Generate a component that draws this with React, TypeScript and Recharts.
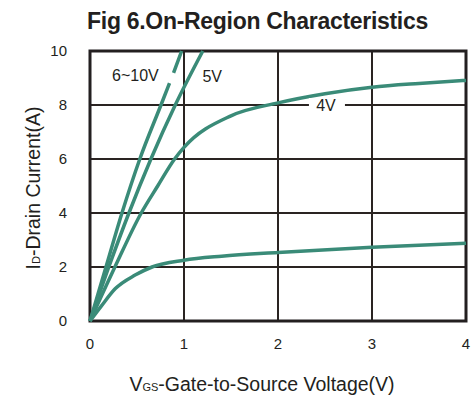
import {
  LineChart,
  Line,
  XAxis,
  YAxis,
  CartesianGrid,
  ReferenceArea,
  ReferenceDot,
} from 'recharts';

// Gate voltage (V) and drain current (A), one pair of arrays per curve
const v6to10 = [0, 0.17, 0.34, 0.53, 0.755, 0.846, 0.868, 0.889, 0.975];
const i6to10 = [0, 2, 4, 6, 8, 8.81, null, 9.19, 10];

const v5 = [0, 0.2, 0.414, 0.648, 0.907, 1.2];
const i5 = [0, 2, 4, 6, 8, 10];

const v4 = [0, 0.265, 0.545, 0.72, 0.9, 1, 1.5, 2, 2.5, 3, 3.5, 4];
const i4 = [0, 2, 4, 5, 6, 6.43, 7.6, 8.08, 8.42, 8.66, 8.8, 8.91];

const v3 = [0, 0.12, 0.27, 0.48, 0.66, 1, 1.4, 2, 3, 4];
const i3 = [0, 0.55, 1.2, 1.7, 2.0, 2.25, 2.4, 2.54, 2.73, 2.88];

const xTicks = [0, 1, 2, 3, 4];
const yTicks = [0, 2, 4, 6, 8, 10];

const curveLabels = [
  { text: '6~10V', v: 0.483, i: 9.11, boxed: false },
  { text: '5V', v: 1.3, i: 9.05, boxed: false },
  { text: '4V', v: 2.51, i: 8.0, boxed: true },
];

const toPoints = (vs: number[], is: (number | null)[]) => vs.map((v, k) => ({ v, i: is[k] }));

const series = [
  { key: 'g6to10', data: toPoints(v6to10, i6to10) },
  { key: 'g5', data: toPoints(v5, i5) },
  { key: 'g4', data: toPoints(v4, i4) },
  { key: 'g3', data: toPoints(v3, i3) },
];

const FONT = '"Liberation Sans", Arial, Helvetica, sans-serif';
const INK = '#231f20';
const CURVE = '#3a8b78';

function CurveLabel({ viewBox, text, boxed }: any) {
  const cx = viewBox.x + (viewBox.width || 0) / 2;
  const cy = viewBox.y + (viewBox.height || 0) / 2;
  return (
    <g>
      {boxed && <rect x={cx - 17} y={cy - 7} width={36} height={13} fill="#fff" />}
      <text x={cx} y={cy} dy="0.36em" textAnchor="middle" fontFamily={FONT} fontSize={16} fill={INK}>
        {text}
      </text>
    </g>
  );
}

function XLabel({ viewBox }: any) {
  return (
    <text
      x={viewBox.x + viewBox.width / 2 - 16}
      y={viewBox.y + 70}
      textAnchor="middle"
      fontFamily={FONT}
      fontSize={19.5}
      fill={INK}
    >
      V<tspan fontSize={11}>GS</tspan>-Gate-to-Source Voltage(V)
    </text>
  );
}

function YLabel({ viewBox }: any) {
  const x = viewBox.x + 9.5;
  const y = viewBox.y + viewBox.height / 2 + 2;
  return (
    <text
      x={x}
      y={y}
      transform={`rotate(-90, ${x}, ${y})`}
      textAnchor="middle"
      fontFamily={FONT}
      fontSize={19.5}
      fill={INK}
    >
      I<tspan fontSize={11}>D</tspan>-Drain Current(A)
    </text>
  );
}

export default function App() {
  return (
    <div style={{ position: 'relative', width: 474, height: 398, background: '#fff' }}>
      <style>{`body{margin:0}`}</style>
      <div
        style={{
          position: 'absolute',
          top: 10,
          left: 257.5,
          transform: 'translateX(-50%)',
          whiteSpace: 'nowrap',
          fontFamily: FONT,
          fontWeight: 'bold',
          fontSize: 23,
          lineHeight: '23px',
          letterSpacing: -0.3,
          color: INK,
        }}
      >
        Fig 6.On-Region Characteristics
      </div>
      <LineChart width={474} height={398} margin={{ top: 51, right: 8, bottom: 37, left: 30 }}>
        <CartesianGrid stroke="#2a2422" strokeWidth={2} />
        <XAxis
          type="number"
          dataKey="v"
          domain={[0, 4]}
          ticks={xTicks}
          height={40}
          axisLine={false}
          tickLine={false}
          tickSize={0}
          tickMargin={17}
          tick={{ fontSize: 15, fill: INK, fontFamily: FONT }}
          label={{ content: <XLabel /> } as any}
        />
        <YAxis
          type="number"
          dataKey="i"
          domain={[0, 10]}
          ticks={yTicks}
          width={60}
          axisLine={false}
          tickLine={false}
          tickSize={0}
          tickMargin={23}
          tick={{ fontSize: 15, fill: INK, fontFamily: FONT }}
          label={{ content: <YLabel /> } as any}
        />
        <ReferenceArea x1={0} x2={4} y1={0} y2={10} fill="none" stroke={INK} strokeWidth={3} />
        {series.map((s) => (
          <Line
            key={s.key}
            data={s.data}
            dataKey="i"
            type="monotone"
            stroke={CURVE}
            strokeWidth={3.5}
            dot={false}
            activeDot={false}
            isAnimationActive={false}
          />
        ))}
        {curveLabels.map((c) => (
          <ReferenceDot
            key={c.text}
            x={c.v}
            y={c.i}
            r={0}
            fill="none"
            stroke="none"
            label={{ content: <CurveLabel text={c.text} boxed={c.boxed} /> } as any}
          />
        ))}
      </LineChart>
    </div>
  );
}
